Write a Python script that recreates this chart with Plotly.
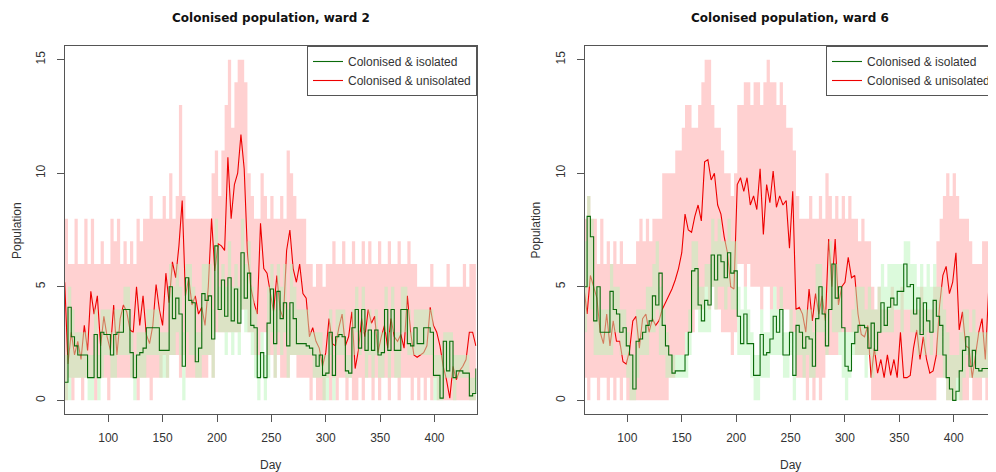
import plotly.graph_objects as go

DAYS = list(range(60, 439, 3))

# ---- Ward 2 ----
W2_UNISO = [5.2, 1.6, 3.0, 2.0, 2.6, 1.8, 3.3, 2.2, 4.8, 3.8,
            4.6, 2.4, 3.7, 2.8, 2.2, 4.2, 2.0, 3.6, 4.2, 3.9,
            3.1, 3.0, 5.0, 3.3, 4.6, 2.9, 2.5, 3.3, 5.1, 4.0,
            3.3, 5.6, 4.3, 6.1, 5.4, 6.8, 8.8, 4.6, 5.4, 4.2,
            4.6, 3.8, 4.1, 3.3, 5.0, 8.0, 5.7, 6.9, 6.8, 6.6,
            10.7, 8.0, 9.5, 10.0, 11.7, 10.2, 6.5, 5.0, 4.3, 3.8,
            7.8, 5.8, 5.6, 4.7, 3.9, 5.5, 4.0, 3.6, 6.6, 7.5,
            5.8, 5.2, 6.0, 4.7, 4.5, 2.8, 3.2, 2.6, 2.3, 1.5,
            2.1, 3.6, 2.5, 2.4, 3.2, 3.8, 2.4, 2.8, 3.9, 1.4,
            2.2, 3.6, 2.8, 4.0, 3.4, 3.7, 2.1, 2.8, 3.3, 2.3,
            3.6, 2.8, 2.6, 2.9, 2.3, 4.6, 3.0, 2.0, 1.9, 2.0,
            2.1, 2.4, 4.1, 3.3, 3.0, 2.4, 1.5, 0.9, 0.1, 1.5,
            0.9, 1.3, 1.5, 1.8, 3.0, 3.0, 2.4]
W2_ISO = [0.8, 4.1, 2.8, 2.4, 2.0, 2.0, 2.0, 1.0, 1.0, 2.9,
          1.0, 3.0, 2.9, 2.9, 2.0, 2.9, 3.0, 3.0, 4.0, 4.0,
          2.1, 1.0, 2.0, 2.1, 2.3, 3.2, 3.2, 3.2, 3.2, 2.2,
          2.2, 2.2, 5.0, 3.6, 4.5, 3.8, 1.5, 5.4, 4.4, 4.3,
          1.7, 2.3, 4.7, 4.4, 4.6, 2.7, 6.8, 4.0, 5.3, 3.7,
          5.4, 3.5, 4.9, 3.4, 6.5, 4.5, 5.6, 3.3, 3.2, 1.0,
          2.1, 1.0, 3.4, 4.9, 2.5, 4.8, 3.6, 4.3, 2.4, 4.3,
          3.6, 2.5, 2.5, 2.5, 2.4, 2.3, 2.0, 1.5, 2.0, 1.1,
          1.2, 3.0, 1.1, 2.8, 2.9, 2.8, 1.3, 1.2, 3.2, 4.0,
          2.3, 4.0, 2.2, 3.1, 2.2, 3.1, 2.0, 2.1, 4.0, 2.2,
          4.0, 2.2, 2.2, 4.0, 4.0, 2.5, 2.4, 3.2, 2.5, 2.5,
          3.2, 3.2, 3.0, 1.1, 1.1, 0.1, 2.6, 1.3, 2.6, 1.0,
          1.3, 1.3, 1.2, 1.2, 0.2, 0.3, 1.4]
W2_UNISO_LO = [0, 1, 0, 1, 1, 0, 1, 1, 1, 0,
               1, 1, 1, 0, 1, 1, 1, 1, 1, 1,
               1, 1, 0, 1, 1, 1, 0, 1, 1, 1,
               2, 1, 2, 2, 2, 1, 2, 1, 1, 1,
               1, 1, 1, 1, 2, 1, 3, 3, 3, 3,
               3, 3, 3, 3, 4, 4, 3, 3, 2, 2,
               3, 3, 2, 2, 1, 2, 1, 1, 1, 2,
               2, 1, 1, 1, 1, 0, 1, 0, 0, 0,
               1, 0, 1, 0, 1, 1, 0, 1, 0, 0,
               1, 0, 1, 1, 0, 1, 0, 1, 1, 0,
               1, 1, 0, 1, 1, 1, 0, 1, 0, 1,
               0, 1, 0, 1, 0, 0, 0, 0, 0, 0,
               0, 0, 0, 0, 0, 0, 0]
W2_UNISO_HI = [8, 6, 6, 8, 6, 6, 8, 6, 8, 6,
               6, 7, 6, 6, 8, 7, 8, 6, 7, 6,
               7, 6, 8, 7, 8, 8, 9, 8, 8, 8,
               9, 8, 10, 8, 9, 13, 9, 8, 8, 8,
               8, 8, 8, 8, 8, 10, 11, 9, 11, 13,
               15, 12, 14, 15, 15, 14, 10, 9, 8, 8,
               10, 9, 8, 9, 8, 8, 9, 8, 11, 10,
               9, 8, 8, 8, 6, 6, 5, 6, 6, 5,
               6, 6, 7, 6, 6, 7, 6, 6, 7, 6,
               6, 7, 6, 7, 6, 6, 7, 6, 6, 7,
               6, 6, 7, 6, 6, 7, 6, 6, 5, 5,
               5, 5, 6, 5, 5, 5, 5, 6, 5, 5,
               5, 5, 6, 5, 6, 6, 6]
W2_ISO_LO = [0, 0, 1, 1, 1, 1, 1, 0, 0, 1,
             0, 1, 2, 2, 1, 1, 2, 2, 2, 2,
             1, 0, 1, 1, 1, 2, 2, 2, 2, 1,
             1, 1, 2, 2, 3, 2, 0, 3, 2, 2,
             1, 1, 2, 2, 2, 1, 4, 3, 3, 2,
             3, 2, 3, 2, 4, 3, 3, 2, 1, 0,
             1, 0, 1, 3, 1, 3, 2, 3, 1, 2,
             2, 2, 2, 2, 2, 2, 1, 1, 1, 0,
             0, 2, 0, 2, 2, 2, 1, 1, 2, 3,
             2, 3, 1, 2, 1, 2, 1, 1, 3, 1,
             3, 1, 1, 3, 3, 2, 2, 2, 2, 2,
             2, 2, 2, 0, 0, 0, 1, 1, 1, 0,
             1, 1, 1, 1, 0, 0, 0]
W2_ISO_HI = [2, 5, 4, 3, 3, 3, 3, 2, 2, 4,
             2, 4, 4, 4, 3, 4, 4, 4, 5, 5,
             3, 2, 3, 3, 3, 4, 4, 4, 4, 3,
             3, 3, 6, 5, 6, 5, 3, 6, 6, 5,
             3, 3, 6, 6, 6, 4, 8, 5, 6, 5,
             7, 5, 6, 5, 8, 6, 7, 5, 4, 2,
             3, 2, 5, 6, 4, 6, 5, 6, 4, 6,
             5, 4, 4, 4, 4, 3, 3, 3, 3, 2,
             2, 4, 2, 4, 4, 4, 2, 2, 4, 5,
             3, 5, 3, 4, 3, 4, 3, 3, 5, 3,
             5, 3, 3, 5, 5, 4, 3, 4, 4, 4,
             4, 4, 4, 2, 2, 2, 3, 3, 3, 2,
             2, 2, 2, 2, 1, 1, 2]

# ---- Ward 6 ----
W6_UNISO = [5.0, 3.8, 5.5, 5.0, 4.5, 3.0, 2.5, 3.8, 2.4, 3.5,
            2.6, 2.6, 1.7, 1.6, 2.2, 3.5, 3.7, 2.3, 3.6, 3.8,
            3.0, 3.6, 3.3, 3.5, 4.0, 4.3, 4.6, 4.9, 5.3, 5.8,
            6.5, 8.2, 7.5, 7.4, 8.1, 8.6, 7.9, 10.5, 10.6, 9.7,
            10.0, 8.6, 8.2, 7.2, 6.5, 5.0, 4.9, 9.5, 9.8, 9.2,
            9.8, 8.6, 9.0, 8.4, 10.2, 7.3, 9.5, 8.7, 10.1, 8.5,
            9.0, 8.6, 8.8, 6.7, 9.2, 4.0, 4.1, 3.8, 3.0, 4.9,
            3.5, 4.7, 3.8, 4.6, 3.5, 7.1, 5.0, 7.1, 4.2, 5.0,
            5.2, 6.3, 5.4, 5.5, 3.8, 2.9, 2.8, 3.3, 1.0, 2.3,
            1.2, 1.8, 1.0, 2.0, 1.1, 1.8, 1.0, 3.0, 1.0, 1.0,
            1.1, 2.3, 3.1, 1.8, 2.8, 1.8, 1.2, 1.3, 2.0, 4.2,
            5.5, 5.9, 4.7, 5.2, 6.5, 3.1, 3.9, 2.4, 2.3, 1.0,
            2.0, 3.0, 3.6, 1.8, 4.8, 2.9, 3.0]
W6_ISO = [5.0, 8.1, 7.2, 3.5, 5.0, 3.0, 3.0, 3.0, 4.8, 4.0,
          3.8, 3.0, 3.2, 2.4, 2.0, 0.5, 2.6, 2.7, 3.0, 3.3,
          3.5, 4.6, 4.2, 5.6, 3.3, 2.4, 2.0, 1.2, 1.3, 1.3,
          1.3, 2.0, 3.0, 5.7, 5.8, 4.2, 3.5, 4.4, 4.2, 6.4,
          5.3, 6.4, 6.1, 5.4, 6.5, 5.6, 5.7, 3.7, 2.5, 3.8,
          2.5, 2.5, 1.1, 1.1, 2.9, 2.0, 2.1, 2.7, 3.7, 3.0,
          4.0, 2.0, 2.0, 3.0, 1.1, 3.3, 3.0, 2.3, 2.8, 2.7,
          1.5, 3.6, 5.0, 3.8, 2.4, 4.0, 6.0, 4.5, 5.0, 3.2,
          1.5, 1.3, 2.5, 3.0, 3.3, 3.3, 3.2, 2.3, 3.4, 2.2,
          3.0, 4.3, 3.3, 4.1, 4.5, 4.2, 4.8, 4.8, 6.0, 5.0,
          5.1, 3.8, 4.5, 2.9, 4.3, 3.5, 3.0, 4.4, 3.7, 3.3,
          2.0, 1.0, 0.5, 0.0, 0.4, 1.3, 2.2, 2.8, 1.5, 2.2,
          1.4, 1.3, 1.4, 1.4, 3.2, 1.2, 3.4]
W6_UNISO_LO = [1, 0, 1, 1, 0, 1, 1, 0, 1, 0,
               1, 0, 1, 0, 0, 0, 0, 0, 0, 0,
               0, 0, 0, 0, 0, 0, 1, 1, 2, 2,
               2, 3, 3, 3, 4, 4, 4, 5, 4, 5,
               4, 4, 3, 3, 3, 2, 3, 6, 6, 5,
               6, 5, 5, 5, 4, 5, 5, 4, 5, 4,
               4, 4, 4, 3, 3, 1, 1, 1, 0, 1,
               0, 1, 0, 1, 2, 2, 2, 2, 3, 3,
               3, 3, 3, 2, 2, 2, 2, 2, 0, 0,
               0, 0, 0, 0, 0, 0, 0, 0, 0, 0,
               0, 0, 0, 0, 0, 0, 0, 0, 1, 1,
               1, 0, 0, 0, 1, 0, 0, 0, 1, 0,
               0, 0, 1, 0, 0, 1, 0]
W6_UNISO_HI = [8, 9, 8, 8, 6, 8, 6, 7, 6, 7,
               6, 7, 6, 6, 6, 6, 7, 8, 7, 8,
               7, 8, 8, 8, 10, 10, 10, 10, 11, 11,
               12, 13, 13, 12, 12, 13, 14, 15, 15, 13,
               12, 12, 11, 10, 10, 9, 10, 13, 13, 14,
               14, 13, 14, 14, 13, 14, 15, 14, 14, 13,
               14, 13, 12, 12, 11, 9, 8, 8, 8, 9,
               8, 8, 9, 8, 10, 9, 8, 9, 8, 9,
               8, 9, 8, 8, 7, 8, 7, 7, 5, 4,
               5, 4, 4, 4, 5, 4, 4, 5, 4, 4,
               4, 4, 4, 5, 4, 4, 4, 5, 7, 8,
               9, 10, 9, 10, 9, 8, 8, 8, 7, 6,
               6, 6, 7, 7, 8, 7, 7]
W6_ISO_LO = [3, 5, 4, 2, 2, 2, 2, 2, 2, 3,
             3, 2, 2, 1, 0, 0, 1, 2, 2, 2,
             3, 3, 4, 2, 2, 1, 1, 1, 1, 1,
             1, 1, 2, 4, 4, 3, 3, 3, 3, 5,
             4, 5, 5, 4, 5, 4, 4, 2, 2, 2,
             2, 1, 0, 0, 1, 1, 1, 2, 2, 2,
             2, 1, 1, 2, 0, 2, 2, 1, 2, 1,
             1, 3, 3, 3, 2, 4, 3, 3, 2, 1,
             0, 1, 2, 2, 2, 2, 1, 2, 1, 2,
             3, 3, 3, 3, 3, 4, 4, 3, 4, 4,
             3, 3, 2, 3, 2, 3, 2, 3, 2, 2,
             1, 0, 0, 0, 0, 0, 1, 2, 1, 1,
             1, 1, 1, 1, 1, 2, 2]
W6_ISO_HI = [7, 9, 8, 5, 5, 4, 4, 4, 6, 5,
             5, 4, 4, 3, 2, 2, 4, 4, 4, 5,
             5, 6, 7, 5, 4, 3, 2, 2, 2, 2,
             2, 3, 4, 7, 7, 5, 5, 6, 6, 8,
             7, 8, 7, 7, 8, 7, 7, 5, 4, 5,
             4, 3, 2, 2, 4, 3, 3, 4, 5, 4,
             5, 3, 3, 4, 3, 4, 4, 4, 4, 4,
             3, 6, 6, 5, 4, 7, 6, 6, 5, 3,
             3, 3, 4, 5, 5, 5, 4, 5, 4, 4,
             5, 6, 5, 6, 6, 6, 6, 6, 7, 7,
             6, 6, 5, 6, 5, 6, 5, 6, 5, 5,
             4, 3, 2, 2, 2, 3, 4, 4, 3, 4,
             3, 3, 3, 3, 4, 5, 5]

TITLES = ["Colonised population, ward 2", "Colonised population, ward 6"]
NAMES = ["Colonised & isolated", "Colonised & unisolated"]
X_TICKS = [100, 150, 200, 250, 300, 350, 400]
Y_TICKS = [0, 5, 10, 15]

PINK = "rgba(255,0,0,0.18)"
LGREEN = "rgba(185,245,185,0.5)"
DGREEN = "#0b6b0b"
RED = "#ee0000"
FONT = "Liberation Sans, Arial, sans-serif"

# page offset: the html body has an 8px margin, so page px = figure px + 8
OFF = 8
W, H = 996 - OFF, 472 - OFF
PLOT_TOP, PLOT_BOT = 46 - OFF, 414 - OFF
MT, MB = PLOT_TOP, H - PLOT_BOT
pw = W
ph = PLOT_BOT - PLOT_TOP


def px(page_x):
    return (page_x - OFF) / pw


def py(page_y):
    return (414 - page_y) / ph


fig = go.Figure()

panels = [
    ("x", "y", "legend", W2_ISO, W2_UNISO, W2_ISO_LO, W2_ISO_HI, W2_UNISO_LO, W2_UNISO_HI),
    ("x2", "y2", "legend2", W6_ISO, W6_UNISO, W6_ISO_LO, W6_ISO_HI, W6_UNISO_LO, W6_UNISO_HI),
]
for xa, ya, lg, iso, uni, ilo, ihi, ulo, uhi in panels:
    fig.add_trace(go.Scatter(x=DAYS, y=ulo, mode="lines", line=dict(width=0, shape="hv"),
                             xaxis=xa, yaxis=ya, showlegend=False, hoverinfo="skip"))
    fig.add_trace(go.Scatter(x=DAYS, y=uhi, mode="lines", line=dict(width=0, shape="hv"),
                             fill="tonexty", fillcolor=PINK,
                             xaxis=xa, yaxis=ya, showlegend=False, hoverinfo="skip"))
    fig.add_trace(go.Scatter(x=DAYS, y=uni, mode="lines", name=NAMES[1],
                             line=dict(color=RED, width=1.1),
                             xaxis=xa, yaxis=ya, legend=lg, legendrank=2))
    fig.add_trace(go.Scatter(x=DAYS, y=ilo, mode="lines", line=dict(width=0, shape="hv"),
                             xaxis=xa, yaxis=ya, showlegend=False, hoverinfo="skip"))
    fig.add_trace(go.Scatter(x=DAYS, y=ihi, mode="lines", line=dict(width=0, shape="hv"),
                             fill="tonexty", fillcolor=LGREEN,
                             xaxis=xa, yaxis=ya, showlegend=False, hoverinfo="skip"))
    fig.add_trace(go.Scatter(x=DAYS, y=iso, mode="lines", name=NAMES[0],
                             line=dict(color=DGREEN, width=1.1, shape="hv"),
                             xaxis=xa, yaxis=ya, legend=lg, legendrank=1))

dom1 = [px(65), px(477)]
dom2 = [px(585.3), 1.0]

axis_common = dict(showgrid=False, zeroline=False, showline=True, linecolor="#555555",
                   linewidth=1, ticks="outside", ticklen=7, tickcolor="#555555",
                   tickfont=dict(family=FONT, size=12, color="#333333"))

legend_common = dict(y=1, yanchor="top", bgcolor="white", bordercolor="#555555",
                     borderwidth=1, traceorder="normal", tracegroupgap=0,
                     font=dict(family=FONT, size=12, color="#333333"))

fig.update_layout(
    width=W, height=H, margin=dict(l=0, r=0, t=MT, b=MB),
    paper_bgcolor="white", plot_bgcolor="white",
    xaxis=dict(domain=dom1, range=[60.2, 438.6], tickvals=X_TICKS, mirror=True,
               anchor="y", ticklabelstandoff=6, **axis_common),
    yaxis=dict(domain=[0, 1], range=[-0.6, 15.6], tickvals=Y_TICKS, mirror=True,
               anchor="x", tickangle=-90, ticklabelstandoff=7, **axis_common),
    xaxis2=dict(domain=dom2, range=[60.8, 437.9], tickvals=X_TICKS, mirror=True,
                anchor="y2", ticklabelstandoff=6, **axis_common),
    yaxis2=dict(domain=[0, 1], range=[-0.6, 15.6], tickvals=Y_TICKS, mirror=False,
                anchor="x2", tickangle=-90, ticklabelstandoff=7, **axis_common),
    legend=dict(x=px(477), xanchor="right", **legend_common),
    legend2=dict(x=px(827), xanchor="left", **legend_common),
    showlegend=True,
)

centers = [(px(65) + px(477)) / 2, (px(585.3) + px(997)) / 2]
ylabel_x = [px(17), px(537)]
for i in range(2):
    fig.add_annotation(text="<b>" + TITLES[i] + "</b>", x=centers[i], y=py(18),
                       xref="paper", yref="paper", showarrow=False,
                       xanchor="center", yanchor="middle",
                       font=dict(family="DejaVu Sans, sans-serif", size=12, color="#111111"))
    fig.add_annotation(text="Day", x=centers[i], y=py(465),
                       xref="paper", yref="paper", showarrow=False,
                       xanchor="center", yanchor="middle",
                       font=dict(family=FONT, size=12, color="#333333"))
    fig.add_annotation(text="Population", x=ylabel_x[i], y=0.5, textangle=-90,
                       xref="paper", yref="paper", showarrow=False,
                       xanchor="center", yanchor="middle",
                       font=dict(family=FONT, size=12, color="#333333"))

fig.write_html("out.html")
